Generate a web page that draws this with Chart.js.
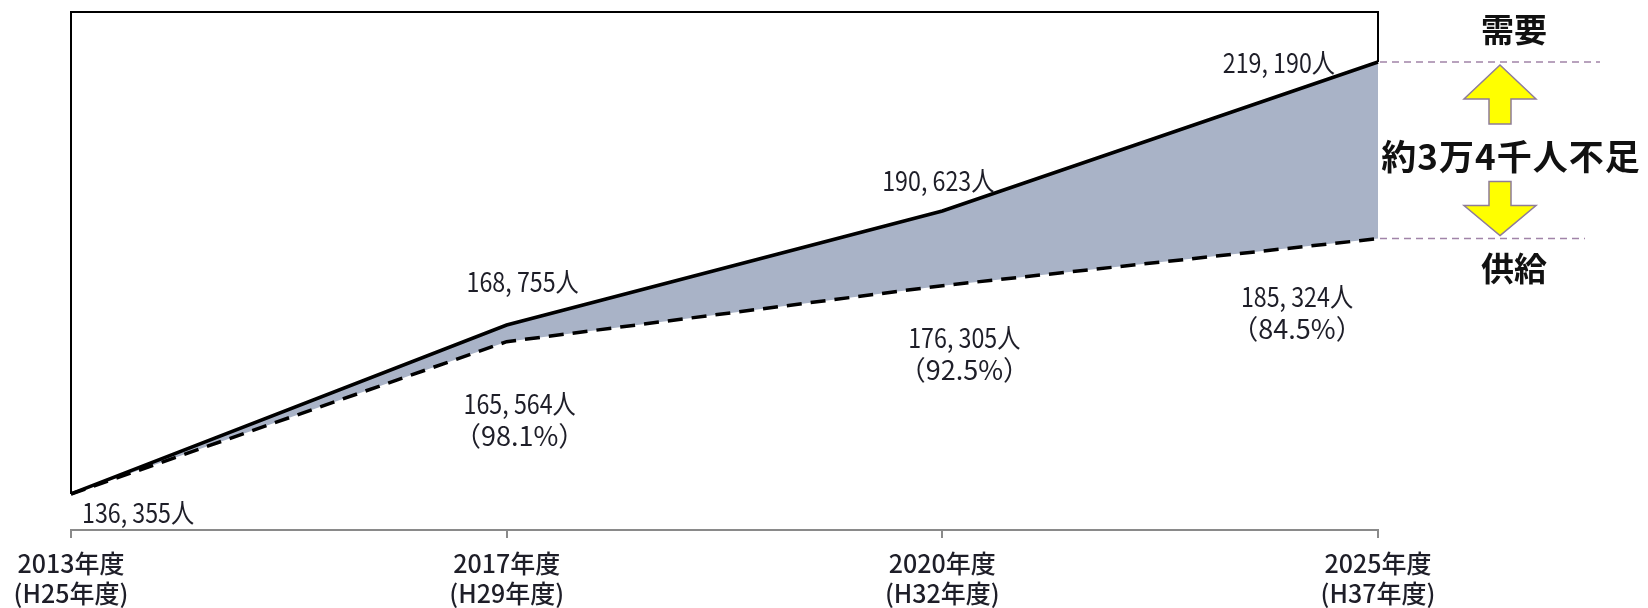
<!DOCTYPE html>
<html lang="ja">
<head>
<meta charset="utf-8">
<script src="https://cdn.jsdelivr.net/npm/chart.js@4.4.1/dist/chart.umd.min.js"></script>
<style>
  html, body { margin: 0; padding: 0; background: #fff; }
</style>
</head>
<body>
<canvas id="gapChart" width="1648" height="608"></canvas>
<script>
const years = [
  ['2013年度', '(H25年度)'],
  ['2017年度', '(H29年度)'],
  ['2020年度', '(H32年度)'],
  ['2025年度', '(H37年度)']
];
const demand = [136355, 168755, 190623, 219190];
const supply = [136355, 165564, 176305, 185324];
const supplyRate = [null, 98.1, 92.5, 84.5];

const FONT = '"Noto Sans CJK JP", "Noto Sans", sans-serif';
const GAP_FILL = '#a9b3c7';
const GUIDE = '#a184a8';

const fmtPeople = n => n.toLocaleString('en-US').replace(/,/g, ', ') + '人';
const fmtRate = r => '（' + r.toFixed(1) + '%）';

// narrow text: draw squeezed horizontally around its anchor
function narrowText(ctx, text, x, y, squeeze) {
  ctx.save();
  ctx.translate(x, y);
  ctx.scale(squeeze, 1);
  ctx.fillText(text, 0, 0);
  ctx.restore();
}

// frame: top edge plus the two sides down to the demand line
const framePlugin = {
  id: 'frame',
  afterDatasetsDraw(chart) {
    const { ctx, chartArea } = chart;
    const pts = chart.getDatasetMeta(0).data;
    const first = pts[0], last = pts[pts.length - 1];
    ctx.save();
    ctx.strokeStyle = '#000';
    ctx.lineWidth = 2;
    ctx.beginPath();
    ctx.moveTo(first.x, first.y);
    ctx.lineTo(chartArea.left, chartArea.top);
    ctx.lineTo(chartArea.right, chartArea.top);
    ctx.lineTo(last.x, last.y);
    ctx.stroke();
    ctx.restore();
  }
};

// value labels next to each point
const valueLabels = {
  id: 'valueLabels',
  afterDatasetsDraw(chart) {
    const { ctx } = chart;
    const dem = chart.getDatasetMeta(0).data;
    const sup = chart.getDatasetMeta(1).data;
    const demPos = [
      { dx: 11, dy: 19, align: 'left' },
      { dx: 16, dy: -43, align: 'center' },
      { dx: -4, dy: -30, align: 'center' },
      { dx: -43, dy: 1, align: 'right' }
    ];
    const supPos = [
      null,
      { dx: 13, dy: 62 },
      { dx: 22, dy: 52 },
      { dx: -81, dy: 58 }
    ];
    ctx.save();
    ctx.fillStyle = '#1e1e28';
    ctx.font = '27px ' + FONT;
    ctx.textBaseline = 'middle';
    demand.forEach((v, i) => {
      const p = demPos[i];
      ctx.textAlign = p.align;
      narrowText(ctx, fmtPeople(v), dem[i].x + p.dx, dem[i].y + p.dy, 0.86);
    });
    ctx.textAlign = 'center';
    supply.forEach((v, i) => {
      const p = supPos[i];
      if (!p) return;
      const x = sup[i].x + p.dx, y = sup[i].y + p.dy;
      narrowText(ctx, fmtPeople(v), x, y, 0.86);
      narrowText(ctx, fmtRate(supplyRate[i]), x, y + 32, 1);
    });
    ctx.restore();
  }
};

function arrow(ctx, cx, fromY, tipY, headW, headH, shaftW) {
  const dir = tipY < fromY ? 1 : -1;
  const baseY = tipY + dir * headH;
  ctx.beginPath();
  ctx.moveTo(cx, tipY);
  ctx.lineTo(cx + headW / 2, baseY);
  ctx.lineTo(cx + shaftW / 2, baseY);
  ctx.lineTo(cx + shaftW / 2, fromY);
  ctx.lineTo(cx - shaftW / 2, fromY);
  ctx.lineTo(cx - shaftW / 2, baseY);
  ctx.lineTo(cx - headW / 2, baseY);
  ctx.closePath();
  ctx.fill();
  ctx.stroke();
}

// shortage callout on the right of the last year
const gapNote = {
  id: 'gapNote',
  afterDraw(chart) {
    const { ctx, chartArea } = chart;
    const dem = chart.getDatasetMeta(0).data;
    const sup = chart.getDatasetMeta(1).data;
    const yD = dem[dem.length - 1].y;
    const yS = sup[sup.length - 1].y;
    const x0 = chartArea.right;
    ctx.save();
    ctx.strokeStyle = GUIDE;
    ctx.lineWidth = 1.5;
    ctx.setLineDash([7, 5]);
    ctx.beginPath();
    ctx.moveTo(x0 + 2, yD);
    ctx.lineTo(x0 + 222, yD);
    ctx.moveTo(x0 + 2, yS);
    ctx.lineTo(x0 + 207, yS);
    ctx.stroke();
    ctx.setLineDash([]);

    const cx = x0 + 122;
    ctx.fillStyle = '#ffff00';
    ctx.strokeStyle = '#8e7c98';
    ctx.lineWidth = 1.5;
    arrow(ctx, cx, yD + 62, yD + 3, 72, 34, 22);
    arrow(ctx, cx, yS - 57, yS - 3, 72, 30, 22);

    ctx.fillStyle = '#111';
    ctx.textAlign = 'center';
    ctx.textBaseline = 'middle';
    ctx.font = 'bold 33px ' + FONT;
    ctx.fillText('需要', x0 + 136, yD - 33);
    ctx.fillText('供給', x0 + 136, yS + 30);
    ctx.font = 'bold 35px ' + FONT;
    ctx.letterSpacing = '1px';
    ctx.fillText('約3万4千人不足', x0 + 133, (yD + yS) / 2 + 6);
    ctx.restore();
  }
};

new Chart(document.getElementById('gapChart'), {
  type: 'line',
  data: {
    labels: years,
    datasets: [
      {
        label: '需要',
        data: demand,
        borderColor: '#000',
        borderWidth: 3.5,
        pointRadius: 0,
        fill: '+1',
        backgroundColor: GAP_FILL
      },
      {
        label: '供給',
        data: supply,
        borderColor: '#000',
        borderWidth: 3.5,
        borderDash: [15, 9],
        pointRadius: 0,
        fill: false
      }
    ]
  },
  options: {
    responsive: false,
    animation: false,
    devicePixelRatio: 1,
    layout: { padding: { left: 71, right: 270, top: 12, bottom: 0 } },
    plugins: {
      legend: { display: false },
      tooltip: { enabled: false },
      filler: { drawTime: 'beforeDatasetsDraw' }
    },
    scales: {
      x: {
        offset: false,
        afterFit(scale) {
          // labels may hang past the plot edges
          scale.height = 78;
          scale.paddingLeft = 0;
          scale.paddingRight = 0;
        },
        grid: {
          drawOnChartArea: false,
          drawTicks: true,
          tickLength: 8,
          color: '#8a8a8a',
          lineWidth: 2
        },
        border: { display: true, color: '#8a8a8a', width: 2 },
        ticks: {
          color: '#1e1e28',
          padding: 10,
          maxRotation: 0,
          autoSkip: false,
          font: { family: FONT, size: 25, weight: 500, lineHeight: 1.2 }
        }
      },
      y: {
        display: false,
        min: 129450,
        max: 228780
      }
    }
  },
  plugins: [framePlugin, valueLabels, gapNote]
});
</script>
</body>
</html>
